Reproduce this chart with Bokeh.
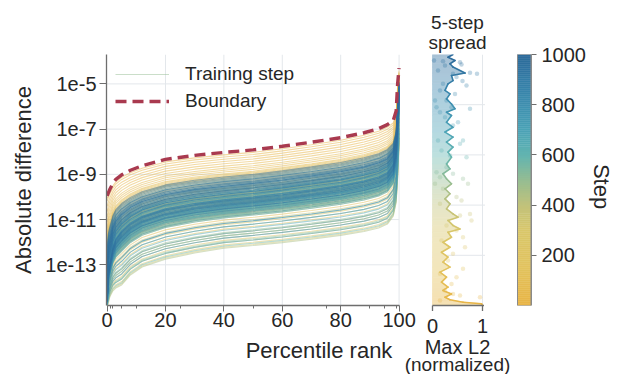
import numpy as np
from bokeh.plotting import figure
from bokeh.models import Range1d, LinearAxis, FixedTicker, Legend, LegendItem
from bokeh.core.properties import value
from bokeh.embed import file_html
from bokeh.resources import INLINE

# ------------------------------------------------------------------ data
# percentile grid of the training-step curves
percentile = [0, 0.5, 1, 2, 3, 5, 8, 12, 20, 30, 40, 50, 60, 70, 80, 88, 93, 96, 98, 99, 99.5, 100]
# dashed boundary, log10(absolute difference)
boundary_log10 = [-9.95, -9.8, -9.65, -9.4, -9.22, -9.02, -8.82, -8.62, -8.34, -8.16, -8.03,
                  -7.92, -7.76, -7.58, -7.38, -7.16, -6.98, -6.8, -6.62, -6.2, -5.0, -4.3]
# curve shapes (relative to the value at the 50th percentile) read for low / middle / high curves
shape_levels = [-12.0, -10.0, -8.1]
shape_low = [-2.8, -2.5, -2.25, -2.0, -1.88, -1.74, -1.3, -0.95, -0.6, -0.33, -0.12,
             0, 0.13, 0.28, 0.45, 0.62, 0.78, 0.95, 1.3, 1.9, 3.0, 4.5]
shape_mid = [-4.6, -3.3, -2.9, -2.2, -1.85, -1.5, -1.15, -0.85, -0.52, -0.29, -0.13,
             0, 0.15, 0.32, 0.5, 0.7, 0.88, 1.08, 1.45, 2.1, 3.3, 4.6]
shape_high = [-2.03, -1.88, -1.73, -1.48, -1.30, -1.10, -0.90, -0.70, -0.42, -0.24, -0.11,
              0, 0.16, 0.34, 0.54, 0.76, 0.94, 1.12, 1.30, 1.72, 2.92, 3.62]
# training steps and their level at the 50th percentile (log10)
step = list(range(5, 1001, 5))
step_level_log10 = [
    # 5-100
    -8.03, -8.12, -9.3, -8.22, -8.32, -9.6, -8.42, -8.52, -9.8, -8.62,
    -8.7, -10.1, -8.78, -8.86, -9.5, -8.94, -9.02, -10.3, -9.1, -9.2,
    # 105-200
    -9.25, -9.9, -8.98, -10.9, -9.35, -9.7, -8.9, -11.3, -9.45, -10.0,
    -9.15, -10.5, -9.55, -11.6, -9.4, -10.2, -9.65, -9.05, -10.4, -9.75,
    # 205-300
    -9.85, -10.6, -9.5, -11.8, -9.95, -10.15, -9.6, -10.75, -10.05, -9.7,
    -11.1, -10.25, -9.8, -10.45, -9.9, -12.0, -10.35, -10.0, -10.65, -10.1,
    # 305-400
    -9.8, -10.5, -10.2, -11.5, -9.9, -10.35, -10.0, -10.7, -12.1, -10.1,
    -10.55, -9.85, -10.25, -11.0, -10.4, -9.95, -10.6, -10.15, -11.9, -10.3,
    # 405-500
    -10.05, -10.45, -9.9, -10.8, -11.7, -10.2, -10.5, -10.0, -10.65, -12.15,
    -10.3, -9.85, -10.55, -11.2, -10.1, -10.4, -10.7, -9.95, -10.25, -11.45,
    # 505-600
    -10.2, -10.6, -9.8, -10.4, -11.85, -10.05, -10.5, -10.75, -9.9, -10.3,
    -11.05, -10.15, -10.45, -9.75, -12.05, -10.25, -10.55, -10.0, -10.7, -10.35,
    # 605-700
    -9.7, -10.3, -10.6, -9.85, -11.6, -10.1, -10.45, -9.6, -10.2, -10.8,
    -9.9, -11.35, -10.35, -10.0, -10.5, -9.75, -10.25, -11.9, -10.05, -10.4,
    # 705-800
    -9.4, -10.15, -10.6, -9.7, -11.5, -10.3, -9.55, -10.45, -9.85, -10.75,
    -9.3, -10.0, -11.2, -9.65, -10.25, -9.45, -10.55, -9.9, -11.7, -10.1,
    # 805-900
    -9.2, -9.75, -10.4, -9.5, -10.05, -10.65, -9.35, -9.95, -11.05, -10.2,
    -9.15, -9.6, -10.3, -9.8, -9.4, -10.5, -9.7, -10.1, -9.25, -10.35,
    # 905-1000
    -9.1, -9.55, -10.0, -9.35, -10.2, -9.65, -9.45, -10.4, -9.05, -9.85,
    -9.2, -9.5, -10.15, -9.3, -9.75, -10.25, -9.0, -9.6, -10.05, -9.4]

# 5-step spread panel
spread_step = [0, 7, 13, 23, 33, 46, 60, 73, 93, 113, 133, 153, 173, 193, 212, 232, 252, 272,
               292, 305, 319, 339, 352, 365, 385, 405, 425, 445, 465, 485, 505, 525, 544, 564,
               591, 611, 631, 651, 671, 691, 710, 730, 757, 770, 784, 803, 823, 843, 857, 883,
               896, 916, 926, 950, 963, 976, 989, 1000]
spread_value = [1.0, 0.98, 0.61, 0.35, 0.25, 0.38, 0.21, 0.31, 0.18, 0.28, 0.15, 0.35, 0.21, 0.31,
                0.18, 0.35, 0.21, 0.38, 0.31, 0.55, 0.41, 0.31, 0.51, 0.41, 0.28, 0.35, 0.25, 0.35,
                0.25, 0.38, 0.28, 0.21, 0.35, 0.28, 0.38, 0.31, 0.41, 0.28, 0.41, 0.25, 0.41, 0.28,
                0.38, 0.28, 0.45, 0.38, 0.28, 0.35, 0.25, 0.31, 0.41, 0.38, 0.65, 0.41, 0.35, 0.45,
                0.31, 0.41]
scatter_step = [976, 973, 956, 969, 960, 927, 923, 910, 894, 936, 883, 857, 876, 843, 817, 790, 784,
                770, 750, 730, 717, 657, 644, 657, 618, 598, 591, 551, 525, 511, 505, 485, 465, 432,
                418, 405, 365, 359, 339, 319, 299, 272, 259, 232, 206, 179, 146, 126, 113, 86, 60,
                40, 33, 20, 46, 531, 485, 790, 923, 817]
scatter_value = [0.03, 0.21, 0.25, 0.55, 0.58, 0.75, 0.89, 0.48, 0.60, 0.11, 0.21, 0.15, 0.68, 0.45,
                 0.28, 0.38, 0.75, 0.15, 0.25, 0.51, 0.41, 0.61, 0.55, 0.11, 0.18, 0.35, 0.68, 0.28,
                 0.41, 0.15, 0.61, 0.71, 0.21, 0.48, 0.58, 0.15, 0.75, 0.55, 0.78, 0.28, 0.48, 0.61,
                 0.18, 0.65, 0.41, 0.31, 0.61, 0.15, 0.48, 0.38, 0.25, 0.55, 0.95, 0.15, 0.41, 0.08,
                 0.05, 0.08, 0.41, 0.05]

# ticks
y_ticks = [-13, -11, -9, -7, -5]
x_ticks = [0, 20, 40, 60, 80, 100]
x_minor_ticks = [1, 2, 5, 10, 25, 50, 75, 90, 95, 99]
spread_ticks = [0, 1]
spread_grid_steps = [200, 400, 600, 800]
cbar_ticks = [200, 400, 600, 800, 1000]

# colormap anchors (step -> colour)
cmap_steps = [0, 150, 300, 400, 500, 600, 700, 850, 1000]
cmap_colors = ["#e8b445", "#e2c35f", "#d9c76b", "#c1c27b", "#95bd93", "#63b5b1",
               "#4ca3b7", "#3a87ad", "#2d6a9b"]

# ------------------------------------------------------------------ helpers
FONT = "Liberation Sans"
TXT = "#262626"
SPINE = "#6e6e6e"
GRID = "#e3e7eb"
RED = "#a93a4f"

_rgb = np.array([[int(h[i:i + 2], 16) for i in (1, 3, 5)] for h in cmap_colors], float)


def step_color(s, mix=0.0):
    c = np.array([np.interp(s, cmap_steps, _rgb[:, k]) for k in range(3)])
    c = c * (1 - mix) + 255 * mix
    return "#%02x%02x%02x" % tuple(int(round(v)) for v in c)


# ------------------------------------------------------------------ figure
W, H = 616, 374
BL, BR, BT, BB = 106, 85, 54, 69
FW = W - BL - BR
p = figure(width=W, height=H, output_backend="svg", toolbar_location=None,
           x_range=Range1d(-0.2, -0.2 + FW / 2.92), y_range=Range1d(-14.80, -3.70),
           min_border_left=BL, min_border_right=BR, min_border_top=BT, min_border_bottom=BB)
p.extra_x_ranges = {"mid": Range1d(-6.52, -6.52 + FW / 50.0)}
p.extra_y_ranges = {"step": Range1d(0, 1000)}
p.grid.visible = False
p.outline_line_color = None
p.background_fill_color = "white"
p.border_fill_color = "white"

MID = dict(x_range_name="mid", y_range_name="step")

# main grid
p.segment(x0=[x_ticks[0]] * len(y_ticks), y0=y_ticks, x1=[x_ticks[-1]] * len(y_ticks), y1=y_ticks,
          line_color=GRID, line_width=1, level="underlay")
p.segment(x0=x_ticks[1:], y0=[p.y_range.start] * 5, x1=x_ticks[1:], y1=[p.y_range.end] * 5,
          line_color=GRID, line_width=1, level="underlay")

# training curves
xs, ys = [], []
for L in step_level_log10:
    rel = [np.interp(L, shape_levels, [shape_low[j], shape_mid[j], shape_high[j]])
           for j in range(len(percentile))]
    xs.append(percentile)
    ys.append([L + r for r in rel])
line_colors = [step_color(s) for s in step]
ml = p.multi_line(xs, ys, line_color=line_colors, line_alpha=0.5, line_width=1.1)
bl = p.line(percentile, boundary_log10, line_color=RED, line_width=3.4, line_dash="11 6")

legend = Legend(items=[LegendItem(label="Training step", renderers=[ml], index=step.index(500)),
                       LegendItem(label="Boundary", renderers=[bl])],
                location="top_left", margin=9, padding=0, spacing=5,
                glyph_width=54, glyph_height=20, label_height=20, label_standoff=16,
                label_text_font=FONT, label_text_font_size="19px", label_text_color=TXT,
                border_line_color=None, background_fill_alpha=0)
p.add_layout(legend)

# axes of the main panel
xa = p.xaxis[0]
xa.bounds = (0, 100)
xa.ticker = FixedTicker(ticks=x_ticks, minor_ticks=x_minor_ticks)
xa.axis_label = "Percentile rank"
ya = p.yaxis[0]
ya.ticker = FixedTicker(ticks=y_ticks)
ya.major_label_overrides = {e: "1e%d" % e for e in y_ticks}
ya.axis_label = "Absolute difference"
for ax in (xa, ya):
    ax.axis_line_color = SPINE
    ax.axis_line_width = 1.3
    ax.major_tick_line_color = SPINE
    ax.minor_tick_line_color = SPINE
    ax.major_tick_in = 0
    ax.minor_tick_in = 0
    ax.major_label_text_font = FONT
    ax.major_label_text_font_size = "20px"
    ax.major_label_text_color = TXT
    ax.axis_label_text_font = FONT
    ax.axis_label_text_font_size = "22px"
    ax.axis_label_text_font_style = "normal"
    ax.axis_label_text_color = TXT
xa.major_tick_out = 6
xa.minor_tick_out = 3
xa.major_label_standoff = 1
xa.axis_label_standoff = 8
ya.major_tick_out = 7
ya.minor_tick_line_color = None
ya.major_label_standoff = 3
ya.axis_label_standoff = 6

# ------------------------------------------------------------------ spread panel
p.segment(x0=[0] * 4, y0=spread_grid_steps, x1=[1.05] * 4, y1=spread_grid_steps,
          line_color=GRID, line_width=1, level="underlay", **MID)
p.segment(x0=[1], y0=[0], x1=[1], y1=[1000], line_color=GRID, line_width=1, level="underlay", **MID)

fx, fy, fc, sc = [], [], [], []
for i in range(len(spread_step) - 1):
    s0, s1 = spread_step[i], spread_step[i + 1]
    v0, v1 = spread_value[i], spread_value[i + 1]
    fx.append([0, v0, v1, 0])
    fy.append([s0, s0, s1, s1])
    fc.append(step_color((s0 + s1) / 2, 0.58))
    sc.append(step_color((s0 + s1) / 2))
p.patches(fx, fy, fill_color=fc, line_color=fc, line_width=0.8, **MID)
p.scatter(scatter_value, scatter_step, size=4.5, fill_color=[step_color(s) for s in scatter_step],
          line_color=None, fill_alpha=0.3, **MID)
p.segment(x0=spread_value[:-1], y0=spread_step[:-1], x1=spread_value[1:], y1=spread_step[1:],
          line_color=sc, line_width=1.6, line_cap="round", **MID)

# spread panel bottom axis (overlay level so it is drawn outside the frame clip)
p.segment(x0=[spread_ticks[0]], y0=[0], x1=[1.03], y1=[0], line_color=SPINE, line_width=1.3,
          level="overlay", **MID)
p.segment(x0=spread_ticks, y0=[0, 0], x1=spread_ticks, y1=[-22, -22], line_color=SPINE,
          line_width=1.3, level="overlay", **MID)


def add_text(texts, xs_, ys_, size, angle=0.0, baseline="alphabetic"):
    p.text(x=xs_, y=ys_, text=texts, text_font=value(FONT), text_font_size=value(size),
           text_color=TXT, text_align="center", text_baseline=baseline, angle=angle,
           level="overlay", **MID)


add_text([str(t) for t in spread_ticks], spread_ticks, [-82, -82], "20px")
add_text(["Max L2"], [0.5], [-166], "20px")
add_text(["(normalized)"], [0.5], [-235], "19px")
add_text(["5-step"], [0.5], [1128], "19px")
add_text(["spread"], [0.5], [1049], "19px")

# ------------------------------------------------------------------ colour bar
band = 8
bottoms = list(range(0, 1000, band))
bcols = [step_color(b + band / 2) for b in bottoms]
p.quad(left=1.70, right=1.97, bottom=bottoms, top=[b + band for b in bottoms],
       fill_color=bcols, line_color=bcols, line_width=0.5, **MID)
p.quad(left=1.70, right=1.97, bottom=0, top=1000, fill_color=None, line_color="#8a8a8a",
       line_width=1, **MID)
ra = LinearAxis(y_range_name="step", ticker=FixedTicker(ticks=cbar_ticks))
ra.axis_line_color = "#8a8a8a"
ra.major_tick_line_color = SPINE
ra.major_tick_in = 0
ra.major_tick_out = 5
ra.minor_tick_line_color = None
ra.major_label_standoff = 5
ra.major_label_text_font = FONT
ra.major_label_text_font_size = "20px"
ra.major_label_text_color = TXT
p.add_layout(ra, "right")
add_text(["Step"], [3.38], [474], "22px", angle=-np.pi / 2, baseline="middle")

open("out.html", "w").write(file_html(p, INLINE))
